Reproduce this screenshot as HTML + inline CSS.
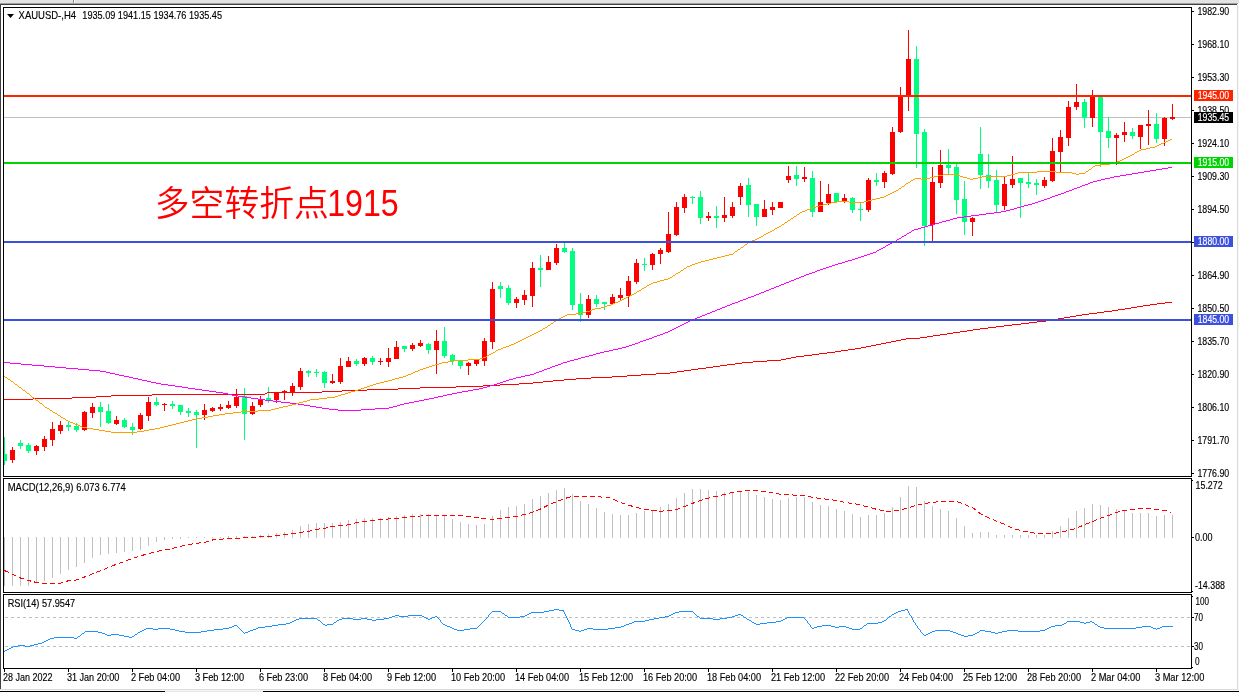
<!DOCTYPE html>
<html lang="zh"><head><meta charset="utf-8"><title>XAUUSD H4</title>
<style>
html,body{margin:0;padding:0;background:#fff;}
body{width:1239px;height:692px;overflow:hidden;position:relative;}
svg{display:block;position:absolute;left:0;top:0;will-change:transform;}
.t{font-family:"Liberation Sans","Noto Sans CJK SC",sans-serif;font-size:10.2px;fill:#000;stroke:#000;stroke-width:0.15px;}
.w{fill:#fff;stroke:#fff;}
.cn{font-family:"Liberation Sans","Noto Sans CJK SC",sans-serif;fill:#ff0000;}
</style></head><body>
<svg width="1239" height="692" viewBox="0 0 1239 692">
<rect x="0" y="0" width="1239" height="692" fill="#fff"/>
<g shape-rendering="crispEdges">
<rect x="0" y="0" width="1239" height="3" fill="#e3e3e3"/>
<rect x="0" y="3" width="1238" height="1" fill="#a0a0a0"/>
<rect x="0" y="4" width="1237" height="1" fill="#404040"/>
<rect x="0" y="4" width="1" height="685" fill="#404040"/>
<rect x="73" y="0" width="1" height="3" fill="#8a8a8a"/><rect x="74" y="0" width="1" height="3" fill="#fff"/>
<rect x="1237" y="5" width="1" height="685" fill="#dcdcdc"/>
<rect x="1238" y="3" width="1" height="689" fill="#f6f6f6"/>
<rect x="0" y="689" width="1238" height="1" fill="#dcdcdc"/>
<rect x="0" y="690" width="1239" height="1" fill="#f6f6f6"/>
<rect x="0" y="691" width="1239" height="1" fill="#000"/>
<rect x="165" y="691" width="98" height="1" fill="#e8e8e8"/>
</g>
<g shape-rendering="crispEdges">
<rect x="4" y="117" width="1187" height="1" fill="#c0c0c0"/>
<rect x="4" y="437" width="1" height="28" fill="#00ff7f"/><rect x="4" y="454" width="3" height="7" fill="#00ff7f"/>
<rect x="12" y="447" width="1" height="16" fill="#ff0000"/><rect x="10" y="450" width="5" height="10" fill="#ff0000"/>
<rect x="20" y="440" width="1" height="9" fill="#00ff7f"/><rect x="18" y="443" width="5" height="3" fill="#00ff7f"/>
<rect x="28" y="443" width="1" height="10" fill="#00ff7f"/><rect x="26" y="445" width="5" height="6" fill="#00ff7f"/>
<rect x="36" y="445" width="1" height="10" fill="#ff0000"/><rect x="34" y="446" width="5" height="5" fill="#ff0000"/>
<rect x="44" y="436" width="1" height="15" fill="#ff0000"/><rect x="42" y="439" width="5" height="8" fill="#ff0000"/>
<rect x="52" y="422" width="1" height="24" fill="#ff0000"/><rect x="50" y="429" width="5" height="11" fill="#ff0000"/>
<rect x="60" y="421" width="1" height="13" fill="#ff0000"/><rect x="58" y="425" width="5" height="6" fill="#ff0000"/>
<rect x="68" y="422" width="1" height="9" fill="#00ff7f"/><rect x="66" y="425" width="5" height="2" fill="#00ff7f"/>
<rect x="76" y="423" width="1" height="9" fill="#00ff7f"/><rect x="74" y="426" width="5" height="4" fill="#00ff7f"/>
<rect x="84" y="411" width="1" height="20" fill="#ff0000"/><rect x="82" y="412" width="5" height="18" fill="#ff0000"/>
<rect x="92" y="403" width="1" height="15" fill="#ff0000"/><rect x="90" y="407" width="5" height="6" fill="#ff0000"/>
<rect x="100" y="402" width="1" height="25" fill="#00ff7f"/><rect x="98" y="407" width="5" height="5" fill="#00ff7f"/>
<rect x="108" y="404" width="1" height="20" fill="#00ff7f"/><rect x="106" y="411" width="5" height="12" fill="#00ff7f"/>
<rect x="116" y="416" width="1" height="9" fill="#ff0000"/><rect x="114" y="420" width="5" height="4" fill="#ff0000"/>
<rect x="124" y="418" width="1" height="10" fill="#00ff7f"/><rect x="122" y="420" width="5" height="7" fill="#00ff7f"/>
<rect x="132" y="423" width="1" height="12" fill="#00ff7f"/><rect x="130" y="427" width="5" height="3" fill="#00ff7f"/>
<rect x="140" y="413" width="1" height="17" fill="#ff0000"/><rect x="138" y="415" width="5" height="14" fill="#ff0000"/>
<rect x="148" y="397" width="1" height="24" fill="#ff0000"/><rect x="146" y="402" width="5" height="14" fill="#ff0000"/>
<rect x="156" y="397" width="1" height="9" fill="#00ff7f"/><rect x="154" y="402" width="5" height="3" fill="#00ff7f"/>
<rect x="164" y="403" width="1" height="8" fill="#ff0000"/><rect x="162" y="404" width="5" height="1" fill="#ff0000"/>
<rect x="172" y="401" width="1" height="8" fill="#00ff7f"/><rect x="170" y="404" width="5" height="2" fill="#00ff7f"/>
<rect x="180" y="405" width="1" height="10" fill="#00ff7f"/><rect x="178" y="405" width="5" height="7" fill="#00ff7f"/>
<rect x="188" y="408" width="1" height="9" fill="#00ff7f"/><rect x="186" y="411" width="5" height="2" fill="#00ff7f"/>
<rect x="196" y="410" width="1" height="38" fill="#00ff7f"/><rect x="194" y="412" width="5" height="3" fill="#00ff7f"/>
<rect x="204" y="404" width="1" height="16" fill="#ff0000"/><rect x="202" y="410" width="5" height="5" fill="#ff0000"/>
<rect x="212" y="407" width="1" height="5" fill="#ff0000"/><rect x="210" y="408" width="5" height="3" fill="#ff0000"/>
<rect x="220" y="404" width="1" height="7" fill="#ff0000"/><rect x="218" y="407" width="5" height="2" fill="#ff0000"/>
<rect x="228" y="401" width="1" height="8" fill="#ff0000"/><rect x="226" y="405" width="5" height="3" fill="#ff0000"/>
<rect x="236" y="389" width="1" height="19" fill="#ff0000"/><rect x="234" y="397" width="5" height="9" fill="#ff0000"/>
<rect x="244" y="388" width="1" height="52" fill="#00ff7f"/><rect x="242" y="396" width="5" height="18" fill="#00ff7f"/>
<rect x="252" y="402" width="1" height="13" fill="#ff0000"/><rect x="250" y="406" width="5" height="8" fill="#ff0000"/>
<rect x="260" y="396" width="1" height="11" fill="#ff0000"/><rect x="258" y="399" width="5" height="6" fill="#ff0000"/>
<rect x="268" y="387" width="1" height="16" fill="#00ff7f"/><rect x="266" y="398" width="5" height="2" fill="#00ff7f"/>
<rect x="276" y="392" width="1" height="11" fill="#ff0000"/><rect x="274" y="392" width="5" height="8" fill="#ff0000"/>
<rect x="284" y="390" width="1" height="10" fill="#ff0000"/><rect x="282" y="391" width="5" height="2" fill="#ff0000"/>
<rect x="292" y="383" width="1" height="13" fill="#ff0000"/><rect x="290" y="386" width="5" height="6" fill="#ff0000"/>
<rect x="300" y="368" width="1" height="22" fill="#ff0000"/><rect x="298" y="371" width="5" height="16" fill="#ff0000"/>
<rect x="308" y="370" width="1" height="7" fill="#00ff7f"/><rect x="306" y="371" width="5" height="2" fill="#00ff7f"/>
<rect x="316" y="369" width="1" height="8" fill="#00ff7f"/><rect x="314" y="372" width="5" height="1" fill="#00ff7f"/>
<rect x="324" y="371" width="1" height="17" fill="#00ff7f"/><rect x="322" y="372" width="5" height="11" fill="#00ff7f"/>
<rect x="332" y="374" width="1" height="10" fill="#ff0000"/><rect x="330" y="381" width="5" height="2" fill="#ff0000"/>
<rect x="340" y="358" width="1" height="26" fill="#ff0000"/><rect x="338" y="366" width="5" height="16" fill="#ff0000"/>
<rect x="348" y="357" width="1" height="10" fill="#ff0000"/><rect x="346" y="361" width="5" height="6" fill="#ff0000"/>
<rect x="356" y="359" width="1" height="7" fill="#00ff7f"/><rect x="354" y="361" width="5" height="3" fill="#00ff7f"/>
<rect x="364" y="357" width="1" height="9" fill="#ff0000"/><rect x="362" y="358" width="5" height="6" fill="#ff0000"/>
<rect x="372" y="356" width="1" height="9" fill="#00ff7f"/><rect x="370" y="358" width="5" height="4" fill="#00ff7f"/>
<rect x="380" y="358" width="1" height="7" fill="#ff0000"/><rect x="378" y="361" width="5" height="1" fill="#ff0000"/>
<rect x="388" y="348" width="1" height="19" fill="#ff0000"/><rect x="386" y="358" width="5" height="4" fill="#ff0000"/>
<rect x="396" y="341" width="1" height="18" fill="#ff0000"/><rect x="394" y="347" width="5" height="12" fill="#ff0000"/>
<rect x="404" y="346" width="1" height="6" fill="#00ff7f"/><rect x="402" y="346" width="5" height="3" fill="#00ff7f"/>
<rect x="412" y="343" width="1" height="8" fill="#ff0000"/><rect x="410" y="345" width="5" height="4" fill="#ff0000"/>
<rect x="420" y="340" width="1" height="7" fill="#ff0000"/><rect x="418" y="343" width="5" height="3" fill="#ff0000"/>
<rect x="428" y="343" width="1" height="11" fill="#00ff7f"/><rect x="426" y="344" width="5" height="6" fill="#00ff7f"/>
<rect x="436" y="330" width="1" height="44" fill="#ff0000"/><rect x="434" y="341" width="5" height="9" fill="#ff0000"/>
<rect x="444" y="327" width="1" height="31" fill="#00ff7f"/><rect x="442" y="341" width="5" height="15" fill="#00ff7f"/>
<rect x="452" y="354" width="1" height="11" fill="#00ff7f"/><rect x="450" y="355" width="5" height="6" fill="#00ff7f"/>
<rect x="460" y="361" width="1" height="8" fill="#00ff7f"/><rect x="458" y="361" width="5" height="5" fill="#00ff7f"/>
<rect x="468" y="362" width="1" height="13" fill="#ff0000"/><rect x="466" y="363" width="5" height="3" fill="#ff0000"/>
<rect x="476" y="360" width="1" height="6" fill="#ff0000"/><rect x="474" y="360" width="5" height="4" fill="#ff0000"/>
<rect x="484" y="338" width="1" height="28" fill="#ff0000"/><rect x="482" y="341" width="5" height="20" fill="#ff0000"/>
<rect x="492" y="282" width="1" height="67" fill="#ff0000"/><rect x="490" y="289" width="5" height="53" fill="#ff0000"/>
<rect x="500" y="282" width="1" height="16" fill="#00ff7f"/><rect x="498" y="286" width="5" height="3" fill="#00ff7f"/>
<rect x="508" y="285" width="1" height="20" fill="#00ff7f"/><rect x="506" y="288" width="5" height="15" fill="#00ff7f"/>
<rect x="516" y="297" width="1" height="11" fill="#ff0000"/><rect x="514" y="299" width="5" height="4" fill="#ff0000"/>
<rect x="524" y="290" width="1" height="15" fill="#ff0000"/><rect x="522" y="295" width="5" height="5" fill="#ff0000"/>
<rect x="532" y="262" width="1" height="45" fill="#ff0000"/><rect x="530" y="268" width="5" height="28" fill="#ff0000"/>
<rect x="540" y="255" width="1" height="32" fill="#00ff7f"/><rect x="538" y="268" width="5" height="2" fill="#00ff7f"/>
<rect x="548" y="256" width="1" height="14" fill="#ff0000"/><rect x="546" y="262" width="5" height="8" fill="#ff0000"/>
<rect x="556" y="244" width="1" height="21" fill="#ff0000"/><rect x="554" y="248" width="5" height="15" fill="#ff0000"/>
<rect x="564" y="243" width="1" height="10" fill="#00ff7f"/><rect x="562" y="248" width="5" height="4" fill="#00ff7f"/>
<rect x="572" y="248" width="1" height="62" fill="#00ff7f"/><rect x="570" y="251" width="5" height="54" fill="#00ff7f"/>
<rect x="580" y="293" width="1" height="29" fill="#00ff7f"/><rect x="578" y="304" width="5" height="11" fill="#00ff7f"/>
<rect x="588" y="295" width="1" height="23" fill="#ff0000"/><rect x="586" y="299" width="5" height="16" fill="#ff0000"/>
<rect x="596" y="295" width="1" height="12" fill="#00ff7f"/><rect x="594" y="299" width="5" height="5" fill="#00ff7f"/>
<rect x="604" y="302" width="1" height="8" fill="#00ff7f"/><rect x="602" y="302" width="5" height="2" fill="#00ff7f"/>
<rect x="612" y="294" width="1" height="11" fill="#ff0000"/><rect x="610" y="297" width="5" height="7" fill="#ff0000"/>
<rect x="620" y="288" width="1" height="13" fill="#ff0000"/><rect x="618" y="295" width="5" height="3" fill="#ff0000"/>
<rect x="628" y="276" width="1" height="31" fill="#ff0000"/><rect x="626" y="281" width="5" height="15" fill="#ff0000"/>
<rect x="636" y="259" width="1" height="25" fill="#ff0000"/><rect x="634" y="263" width="5" height="19" fill="#ff0000"/>
<rect x="644" y="258" width="1" height="13" fill="#00ff7f"/><rect x="642" y="264" width="5" height="1" fill="#00ff7f"/>
<rect x="652" y="253" width="1" height="17" fill="#ff0000"/><rect x="650" y="254" width="5" height="11" fill="#ff0000"/>
<rect x="660" y="248" width="1" height="16" fill="#ff0000"/><rect x="658" y="250" width="5" height="4" fill="#ff0000"/>
<rect x="668" y="212" width="1" height="41" fill="#ff0000"/><rect x="666" y="234" width="5" height="18" fill="#ff0000"/>
<rect x="676" y="202" width="1" height="34" fill="#ff0000"/><rect x="674" y="207" width="5" height="28" fill="#ff0000"/>
<rect x="684" y="194" width="1" height="19" fill="#ff0000"/><rect x="682" y="197" width="5" height="11" fill="#ff0000"/>
<rect x="692" y="196" width="1" height="8" fill="#00ff7f"/><rect x="690" y="197" width="5" height="1" fill="#00ff7f"/>
<rect x="700" y="191" width="1" height="33" fill="#00ff7f"/><rect x="698" y="197" width="5" height="21" fill="#00ff7f"/>
<rect x="708" y="212" width="1" height="9" fill="#ff0000"/><rect x="706" y="216" width="5" height="2" fill="#ff0000"/>
<rect x="716" y="206" width="1" height="22" fill="#00ff7f"/><rect x="714" y="216" width="5" height="2" fill="#00ff7f"/>
<rect x="724" y="197" width="1" height="25" fill="#ff0000"/><rect x="722" y="215" width="5" height="3" fill="#ff0000"/>
<rect x="732" y="202" width="1" height="16" fill="#ff0000"/><rect x="730" y="207" width="5" height="9" fill="#ff0000"/>
<rect x="740" y="183" width="1" height="22" fill="#ff0000"/><rect x="738" y="186" width="5" height="11" fill="#ff0000"/>
<rect x="748" y="178" width="1" height="39" fill="#00ff7f"/><rect x="746" y="185" width="5" height="20" fill="#00ff7f"/>
<rect x="756" y="204" width="1" height="22" fill="#00ff7f"/><rect x="754" y="204" width="5" height="13" fill="#00ff7f"/>
<rect x="764" y="200" width="1" height="17" fill="#ff0000"/><rect x="762" y="209" width="5" height="8" fill="#ff0000"/>
<rect x="772" y="202" width="1" height="13" fill="#ff0000"/><rect x="770" y="207" width="5" height="3" fill="#ff0000"/>
<rect x="780" y="202" width="1" height="6" fill="#ff0000"/><rect x="778" y="202" width="5" height="6" fill="#ff0000"/>
<rect x="788" y="166" width="1" height="17" fill="#ff0000"/><rect x="786" y="176" width="5" height="4" fill="#ff0000"/>
<rect x="796" y="166" width="1" height="20" fill="#00ff7f"/><rect x="794" y="175" width="5" height="4" fill="#00ff7f"/>
<rect x="804" y="167" width="1" height="15" fill="#ff0000"/><rect x="802" y="177" width="5" height="2" fill="#ff0000"/>
<rect x="812" y="171" width="1" height="46" fill="#00ff7f"/><rect x="810" y="178" width="5" height="34" fill="#00ff7f"/>
<rect x="820" y="181" width="1" height="31" fill="#ff0000"/><rect x="818" y="202" width="5" height="10" fill="#ff0000"/>
<rect x="828" y="184" width="1" height="21" fill="#ff0000"/><rect x="826" y="194" width="5" height="9" fill="#ff0000"/>
<rect x="836" y="193" width="1" height="9" fill="#00ff7f"/><rect x="834" y="193" width="5" height="9" fill="#00ff7f"/>
<rect x="844" y="194" width="1" height="9" fill="#ff0000"/><rect x="842" y="198" width="5" height="3" fill="#ff0000"/>
<rect x="852" y="197" width="1" height="16" fill="#00ff7f"/><rect x="850" y="198" width="5" height="12" fill="#00ff7f"/>
<rect x="860" y="203" width="1" height="18" fill="#00ff7f"/><rect x="858" y="209" width="5" height="1" fill="#00ff7f"/>
<rect x="868" y="178" width="1" height="34" fill="#ff0000"/><rect x="866" y="180" width="5" height="30" fill="#ff0000"/>
<rect x="876" y="173" width="1" height="13" fill="#00ff7f"/><rect x="874" y="180" width="5" height="2" fill="#00ff7f"/>
<rect x="884" y="171" width="1" height="17" fill="#ff0000"/><rect x="882" y="173" width="5" height="9" fill="#ff0000"/>
<rect x="892" y="127" width="1" height="48" fill="#ff0000"/><rect x="890" y="132" width="5" height="42" fill="#ff0000"/>
<rect x="900" y="87" width="1" height="46" fill="#ff0000"/><rect x="898" y="96" width="5" height="36" fill="#ff0000"/>
<rect x="908" y="30" width="1" height="81" fill="#ff0000"/><rect x="906" y="59" width="5" height="37" fill="#ff0000"/>
<rect x="916" y="46" width="1" height="122" fill="#00ff7f"/><rect x="914" y="59" width="5" height="75" fill="#00ff7f"/>
<rect x="924" y="129" width="1" height="117" fill="#00ff7f"/><rect x="922" y="132" width="5" height="94" fill="#00ff7f"/>
<rect x="932" y="167" width="1" height="74" fill="#ff0000"/><rect x="930" y="182" width="5" height="43" fill="#ff0000"/>
<rect x="940" y="150" width="1" height="38" fill="#ff0000"/><rect x="938" y="165" width="5" height="18" fill="#ff0000"/>
<rect x="948" y="149" width="1" height="25" fill="#00ff7f"/><rect x="946" y="165" width="5" height="3" fill="#00ff7f"/>
<rect x="956" y="164" width="1" height="50" fill="#00ff7f"/><rect x="954" y="167" width="5" height="33" fill="#00ff7f"/>
<rect x="964" y="181" width="1" height="54" fill="#00ff7f"/><rect x="962" y="199" width="5" height="23" fill="#00ff7f"/>
<rect x="972" y="217" width="1" height="19" fill="#ff0000"/><rect x="970" y="218" width="5" height="4" fill="#ff0000"/>
<rect x="980" y="127" width="1" height="62" fill="#00ff7f"/><rect x="978" y="154" width="5" height="21" fill="#00ff7f"/>
<rect x="988" y="154" width="1" height="34" fill="#00ff7f"/><rect x="986" y="175" width="5" height="6" fill="#00ff7f"/>
<rect x="996" y="170" width="1" height="42" fill="#00ff7f"/><rect x="994" y="180" width="5" height="25" fill="#00ff7f"/>
<rect x="1004" y="177" width="1" height="33" fill="#ff0000"/><rect x="1002" y="184" width="5" height="22" fill="#ff0000"/>
<rect x="1012" y="156" width="1" height="32" fill="#ff0000"/><rect x="1010" y="179" width="5" height="6" fill="#ff0000"/>
<rect x="1020" y="178" width="1" height="40" fill="#00ff7f"/><rect x="1018" y="178" width="5" height="5" fill="#00ff7f"/>
<rect x="1028" y="173" width="1" height="15" fill="#00ff7f"/><rect x="1026" y="182" width="5" height="2" fill="#00ff7f"/>
<rect x="1036" y="179" width="1" height="16" fill="#00ff7f"/><rect x="1034" y="183" width="5" height="2" fill="#00ff7f"/>
<rect x="1044" y="177" width="1" height="11" fill="#ff0000"/><rect x="1042" y="180" width="5" height="6" fill="#ff0000"/>
<rect x="1052" y="138" width="1" height="44" fill="#ff0000"/><rect x="1050" y="151" width="5" height="30" fill="#ff0000"/>
<rect x="1060" y="130" width="1" height="42" fill="#ff0000"/><rect x="1058" y="137" width="5" height="15" fill="#ff0000"/>
<rect x="1068" y="101" width="1" height="45" fill="#ff0000"/><rect x="1066" y="107" width="5" height="31" fill="#ff0000"/>
<rect x="1076" y="84" width="1" height="26" fill="#ff0000"/><rect x="1074" y="102" width="5" height="5" fill="#ff0000"/>
<rect x="1084" y="99" width="1" height="29" fill="#00ff7f"/><rect x="1082" y="102" width="5" height="16" fill="#00ff7f"/>
<rect x="1092" y="90" width="1" height="37" fill="#ff0000"/><rect x="1090" y="96" width="5" height="22" fill="#ff0000"/>
<rect x="1100" y="97" width="1" height="70" fill="#00ff7f"/><rect x="1098" y="97" width="5" height="35" fill="#00ff7f"/>
<rect x="1108" y="117" width="1" height="31" fill="#00ff7f"/><rect x="1106" y="131" width="5" height="7" fill="#00ff7f"/>
<rect x="1116" y="133" width="1" height="32" fill="#ff0000"/><rect x="1114" y="135" width="5" height="3" fill="#ff0000"/>
<rect x="1124" y="122" width="1" height="20" fill="#ff0000"/><rect x="1122" y="132" width="5" height="3" fill="#ff0000"/>
<rect x="1132" y="128" width="1" height="11" fill="#00ff7f"/><rect x="1130" y="132" width="5" height="4" fill="#00ff7f"/>
<rect x="1140" y="125" width="1" height="24" fill="#ff0000"/><rect x="1138" y="125" width="5" height="12" fill="#ff0000"/>
<rect x="1148" y="110" width="1" height="35" fill="#ff0000"/><rect x="1146" y="124" width="5" height="2" fill="#ff0000"/>
<rect x="1156" y="113" width="1" height="30" fill="#00ff7f"/><rect x="1154" y="124" width="5" height="15" fill="#00ff7f"/>
<rect x="1164" y="117" width="1" height="29" fill="#ff0000"/><rect x="1162" y="118" width="5" height="21" fill="#ff0000"/>
<rect x="1172" y="104" width="1" height="16" fill="#ff0000"/><rect x="1170" y="117" width="5" height="2" fill="#ff0000"/>
</g>
<g shape-rendering="crispEdges">
<path fill="#ff0000" d="M3 399h30v1h-30zM33 398h39v1h-39zM72 397h24v1h-24zM96 396h15v1h-15zM111 395h41v1h-41zM152 394h113v1h-113zM265 393h2v1h-2zM267 392h55v1h-55zM322 391h20v1h-20zM342 390h25v1h-25zM367 389h31v1h-31zM398 388h22v1h-22zM420 387h36v1h-36zM456 386h27v1h-27zM483 385h17v1h-17zM500 384h19v1h-19zM519 383h14v1h-14zM533 382h10v1h-10zM543 381h10v1h-10zM553 380h11v1h-11zM564 379h12v1h-12zM576 378h15v1h-15zM591 377h21v1h-21zM612 376h15v1h-15zM627 375h14v1h-14zM641 374h15v1h-15zM656 373h14v1h-14zM670 372h7v1h-7zM677 371h7v1h-7zM684 370h7v1h-7zM691 369h7v1h-7zM698 368h8v1h-8zM706 367h7v1h-7zM713 366h7v1h-7zM720 365h7v1h-7zM727 364h8v1h-8zM735 363h7v1h-7zM742 362h11v1h-11zM753 361h14v1h-14zM767 360h14v1h-14zM781 359h5v1h-5zM786 358h5v1h-5zM791 357h5v1h-5zM796 356h8v1h-8zM804 355h8v1h-8zM812 354h7v1h-7zM819 353h8v1h-8zM827 352h8v1h-8zM835 351h6v1h-6zM841 350h7v1h-7zM848 349h7v1h-7zM855 348h6v1h-6zM861 347h5v1h-5zM866 346h5v1h-5zM871 345h5v1h-5zM876 344h5v1h-5zM881 343h5v1h-5zM886 342h5v1h-5zM891 341h5v1h-5zM896 340h5v1h-5zM901 339h5v1h-5zM906 338h14v1h-14zM920 337h7v1h-7zM927 336h6v1h-6zM933 335h7v1h-7zM940 334h7v1h-7zM947 333h6v1h-6zM953 332h7v1h-7zM960 331h7v1h-7zM967 330h6v1h-6zM973 329h7v1h-7zM980 328h8v1h-8zM988 327h8v1h-8zM996 326h8v1h-8zM1004 325h8v1h-8zM1012 324h9v1h-9zM1021 323h8v1h-8zM1029 322h8v1h-8zM1037 321h9v1h-9zM1046 320h6v1h-6zM1052 319h6v1h-6zM1058 318h6v1h-6zM1064 317h6v1h-6zM1070 316h6v1h-6zM1076 315h6v1h-6zM1082 314h7v1h-7zM1089 313h8v1h-8zM1097 312h7v1h-7zM1104 311h8v1h-8zM1112 310h6v1h-6zM1118 309h7v1h-7zM1125 308h6v1h-6zM1131 307h6v1h-6zM1137 306h6v1h-6zM1143 305h7v1h-7zM1150 304h7v1h-7zM1157 303h8v1h-8zM1165 302h7v1h-7z"/>
<path fill="#ff00ff" d="M3 362h7v1h-7zM10 363h11v1h-11zM21 364h11v1h-11zM32 365h12v1h-12zM44 366h11v1h-11zM55 367h11v1h-11zM66 368h12v1h-12zM78 369h11v1h-11zM89 370h11v1h-11zM100 371h6v1h-6zM106 372h4v1h-4zM110 373h5v1h-5zM115 374h4v1h-4zM119 375h5v1h-5zM124 376h5v1h-5zM129 377h4v1h-4zM133 378h5v1h-5zM138 379h4v1h-4zM142 380h5v1h-5zM147 381h4v1h-4zM151 382h5v1h-5zM156 383h5v1h-5zM161 384h7v1h-7zM168 385h7v1h-7zM175 386h7v1h-7zM182 387h6v1h-6zM188 388h7v1h-7zM195 389h7v1h-7zM202 390h7v1h-7zM209 391h7v1h-7zM216 392h7v1h-7zM223 393h5v1h-5zM228 394h4v1h-4zM232 395h6v1h-6zM238 396h7v1h-7zM245 397h6v1h-6zM251 398h7v1h-7zM258 399h7v1h-7zM265 400h8v1h-8zM273 401h8v1h-8zM281 402h9v1h-9zM290 403h8v1h-8zM298 404h6v1h-6zM304 405h6v1h-6zM310 406h6v1h-6zM316 407h6v1h-6zM322 408h7v1h-7zM329 409h9v1h-9zM338 410h23v1h-23zM361 409h14v1h-14zM375 408h14v1h-14zM389 407h4v1h-4zM393 406h4v1h-4zM397 405h3v1h-3zM400 404h4v1h-4zM404 403h5v1h-5zM409 402h5v1h-5zM414 401h5v1h-5zM419 400h5v1h-5zM424 399h5v1h-5zM429 398h5v1h-5zM434 397h4v1h-4zM438 396h5v1h-5zM443 395h4v1h-4zM447 394h5v1h-5zM452 393h5v1h-5zM457 392h5v1h-5zM462 391h6v1h-6zM468 390h5v1h-5zM473 389h6v1h-6zM479 388h4v1h-4zM483 387h4v1h-4zM487 386h3v1h-3zM490 385h4v1h-4zM494 384h3v1h-3zM497 383h3v1h-3zM500 382h3v1h-3zM503 381h3v1h-3zM506 380h3v1h-3zM509 379h4v1h-4zM513 378h3v1h-3zM516 377h5v1h-5zM521 376h4v1h-4zM525 375h5v1h-5zM530 374h4v1h-4zM534 373h2v1h-2zM536 372h3v1h-3zM539 371h3v1h-3zM542 370h2v1h-2zM544 369h3v1h-3zM547 368h3v1h-3zM550 367h2v1h-2zM552 366h3v1h-3zM555 365h3v1h-3zM558 364h3v1h-3zM561 363h2v1h-2zM563 362h4v1h-4zM567 361h3v1h-3zM570 360h4v1h-4zM574 359h4v1h-4zM578 358h3v1h-3zM581 357h4v1h-4zM585 356h4v1h-4zM589 355h4v1h-4zM593 354h3v1h-3zM596 353h4v1h-4zM600 352h4v1h-4zM604 351h5v1h-5zM609 350h4v1h-4zM613 349h5v1h-5zM618 348h4v1h-4zM622 347h4v1h-4zM626 346h3v1h-3zM629 345h3v1h-3zM632 344h3v1h-3zM635 343h3v1h-3zM638 342h2v1h-2zM640 341h3v1h-3zM643 340h3v1h-3zM646 339h3v1h-3zM649 338h3v1h-3zM652 337h2v1h-2zM654 336h3v1h-3zM657 335h3v1h-3zM660 334h3v1h-3zM663 333h2v1h-2zM665 332h3v1h-3zM668 331h2v1h-2zM670 330h2v1h-2zM672 329h2v1h-2zM674 328h2v1h-2zM676 327h2v1h-2zM678 326h2v1h-2zM680 325h2v1h-2zM682 324h2v1h-2zM684 323h2v1h-2zM686 322h2v1h-2zM688 321h2v1h-2zM690 320h2v1h-2zM692 319h3v1h-3zM695 318h2v1h-2zM697 317h3v1h-3zM700 316h2v1h-2zM702 315h3v1h-3zM705 314h2v1h-2zM707 313h3v1h-3zM710 312h2v1h-2zM712 311h3v1h-3zM715 310h2v1h-2zM717 309h3v1h-3zM720 308h2v1h-2zM722 307h3v1h-3zM725 306h2v1h-2zM727 305h3v1h-3zM730 304h2v1h-2zM732 303h3v1h-3zM735 302h3v1h-3zM738 301h2v1h-2zM740 300h3v1h-3zM743 299h3v1h-3zM746 298h2v1h-2zM748 297h3v1h-3zM751 296h3v1h-3zM754 295h2v1h-2zM756 294h3v1h-3zM759 293h2v1h-2zM761 292h3v1h-3zM764 291h2v1h-2zM766 290h3v1h-3zM769 289h2v1h-2zM771 288h3v1h-3zM774 287h2v1h-2zM776 286h3v1h-3zM779 285h2v1h-2zM781 284h3v1h-3zM784 283h2v1h-2zM786 282h3v1h-3zM789 281h2v1h-2zM791 280h3v1h-3zM794 279h2v1h-2zM796 278h3v1h-3zM799 277h2v1h-2zM801 276h3v1h-3zM804 275h2v1h-2zM806 274h3v1h-3zM809 273h3v1h-3zM812 272h3v1h-3zM815 271h2v1h-2zM817 270h3v1h-3zM820 269h3v1h-3zM823 268h3v1h-3zM826 267h3v1h-3zM829 266h3v1h-3zM832 265h3v1h-3zM835 264h3v1h-3zM838 263h4v1h-4zM842 262h3v1h-3zM845 261h3v1h-3zM848 260h4v1h-4zM852 259h3v1h-3zM855 258h3v1h-3zM858 257h3v1h-3zM861 256h3v1h-3zM864 255h3v1h-3zM867 254h3v1h-3zM870 253h3v1h-3zM873 252h3v1h-3zM876 251h1v1h-1zM877 250h2v1h-2zM879 249h2v1h-2zM881 248h2v1h-2zM883 247h2v1h-2zM885 246h1v1h-1zM886 245h2v1h-2zM888 244h2v1h-2zM890 243h2v1h-2zM892 242h2v1h-2zM894 241h2v1h-2zM896 240h1v1h-1zM897 239h2v1h-2zM899 238h2v1h-2zM901 237h1v1h-1zM902 236h2v1h-2zM904 235h2v1h-2zM906 234h1v1h-1zM907 233h2v1h-2zM909 232h2v1h-2zM911 231h1v1h-1zM912 230h2v1h-2zM914 229h4v1h-4zM918 228h3v1h-3zM921 227h4v1h-4zM925 226h3v1h-3zM928 225h4v1h-4zM932 224h3v1h-3zM935 223h4v1h-4zM939 222h3v1h-3zM942 221h4v1h-4zM946 220h4v1h-4zM950 219h3v1h-3zM953 218h4v1h-4zM957 217h7v1h-7zM964 216h7v1h-7zM971 215h8v1h-8zM979 214h7v1h-7zM986 213h8v1h-8zM994 212h7v1h-7zM1001 211h5v1h-5zM1006 210h4v1h-4zM1010 209h4v1h-4zM1014 208h3v1h-3zM1017 207h4v1h-4zM1021 206h3v1h-3zM1024 205h4v1h-4zM1028 204h4v1h-4zM1032 203h3v1h-3zM1035 202h3v1h-3zM1038 201h3v1h-3zM1041 200h3v1h-3zM1044 199h3v1h-3zM1047 198h3v1h-3zM1050 197h2v1h-2zM1052 196h3v1h-3zM1055 195h3v1h-3zM1058 194h3v1h-3zM1061 193h3v1h-3zM1064 192h2v1h-2zM1066 191h3v1h-3zM1069 190h3v1h-3zM1072 189h2v1h-2zM1074 188h3v1h-3zM1077 187h3v1h-3zM1080 186h2v1h-2zM1082 185h3v1h-3zM1085 184h3v1h-3zM1088 183h2v1h-2zM1090 182h3v1h-3zM1093 181h4v1h-4zM1097 180h4v1h-4zM1101 179h4v1h-4zM1105 178h5v1h-5zM1110 177h4v1h-4zM1114 176h6v1h-6zM1120 175h6v1h-6zM1126 174h6v1h-6zM1132 173h6v1h-6zM1138 172h6v1h-6zM1144 171h6v1h-6zM1150 170h6v1h-6zM1156 169h6v1h-6zM1162 168h6v1h-6zM1168 167h4v1h-4z"/>
<path fill="#ffa000" d="M3 376h2v1h-2zM5 377h2v1h-2zM7 378h1v1h-1zM8 379h2v1h-2zM10 380h1v1h-1zM11 381h2v1h-2zM13 382h1v1h-1zM14 383h1v1h-1zM15 384h2v1h-2zM17 385h1v1h-1zM18 386h1v1h-1zM19 387h2v1h-2zM21 388h1v1h-1zM22 389h1v1h-1zM23 390h2v1h-2zM25 391h1v1h-1zM26 392h1v1h-1zM27 393h2v1h-2zM29 394h1v1h-1zM30 395h1v1h-1zM31 396h1v1h-1zM32 397h2v1h-2zM34 398h1v1h-1zM35 399h1v1h-1zM36 400h2v1h-2zM38 401h1v1h-1zM39 402h1v1h-1zM40 403h2v1h-2zM42 404h1v1h-1zM43 405h1v1h-1zM44 406h1v1h-1zM45 407h2v1h-2zM47 408h2v1h-2zM49 409h1v1h-1zM50 410h2v1h-2zM52 411h1v1h-1zM53 412h2v1h-2zM55 413h2v1h-2zM57 414h1v1h-1zM58 415h2v1h-2zM60 416h1v1h-1zM61 417h2v1h-2zM63 418h2v1h-2zM65 419h1v1h-1zM66 420h2v1h-2zM68 421h2v1h-2zM70 422h3v1h-3zM73 423h2v1h-2zM75 424h3v1h-3zM78 425h2v1h-2zM80 426h2v1h-2zM82 427h5v1h-5zM87 428h6v1h-6zM93 429h6v1h-6zM99 430h6v1h-6zM105 431h6v1h-6zM111 432h26v1h-26zM137 431h7v1h-7zM144 430h5v1h-5zM149 429h6v1h-6zM155 428h5v1h-5zM160 427h4v1h-4zM164 426h4v1h-4zM168 425h4v1h-4zM172 424h4v1h-4zM176 423h4v1h-4zM180 422h4v1h-4zM184 421h4v1h-4zM188 420h4v1h-4zM192 419h4v1h-4zM196 418h6v1h-6zM202 417h6v1h-6zM208 416h5v1h-5zM213 415h6v1h-6zM219 414h6v1h-6zM225 413h8v1h-8zM233 412h8v1h-8zM241 411h17v1h-17zM258 410h13v1h-13zM271 409h4v1h-4zM275 408h4v1h-4zM279 407h4v1h-4zM283 406h5v1h-5zM288 405h4v1h-4zM292 404h4v1h-4zM296 403h3v1h-3zM299 402h4v1h-4zM303 401h4v1h-4zM307 400h3v1h-3zM310 399h9v1h-9zM319 398h8v1h-8zM327 397h8v1h-8zM335 396h3v1h-3zM338 395h3v1h-3zM341 394h4v1h-4zM345 393h3v1h-3zM348 392h3v1h-3zM351 391h4v1h-4zM355 390h3v1h-3zM358 389h3v1h-3zM361 388h3v1h-3zM364 387h3v1h-3zM367 386h3v1h-3zM370 385h3v1h-3zM373 384h3v1h-3zM376 383h4v1h-4zM380 382h4v1h-4zM384 381h4v1h-4zM388 380h4v1h-4zM392 379h3v1h-3zM395 378h4v1h-4zM399 377h4v1h-4zM403 376h3v1h-3zM406 375h2v1h-2zM408 374h3v1h-3zM411 373h2v1h-2zM413 372h2v1h-2zM415 371h3v1h-3zM418 370h2v1h-2zM420 369h3v1h-3zM423 368h3v1h-3zM426 367h3v1h-3zM429 366h3v1h-3zM432 365h3v1h-3zM435 364h4v1h-4zM439 363h3v1h-3zM442 362h6v1h-6zM448 361h6v1h-6zM454 360h14v1h-14zM468 359h12v1h-12zM480 358h3v1h-3zM483 357h3v1h-3zM486 356h1v1h-1zM487 355h2v1h-2zM489 354h2v1h-2zM491 353h2v1h-2zM493 352h2v1h-2zM495 351h1v1h-1zM496 350h2v1h-2zM498 349h3v1h-3zM501 348h2v1h-2zM503 347h3v1h-3zM506 346h3v1h-3zM509 345h2v1h-2zM511 344h3v1h-3zM514 343h2v1h-2zM516 342h2v1h-2zM518 341h2v1h-2zM520 340h2v1h-2zM522 339h2v1h-2zM524 338h2v1h-2zM526 337h2v1h-2zM528 336h2v1h-2zM530 335h2v1h-2zM532 334h2v1h-2zM534 333h2v1h-2zM536 332h2v1h-2zM538 331h2v1h-2zM540 330h2v1h-2zM542 329h1v1h-1zM543 328h2v1h-2zM545 327h2v1h-2zM547 326h1v1h-1zM548 325h2v1h-2zM550 324h1v1h-1zM551 323h2v1h-2zM553 322h1v1h-1zM554 321h2v1h-2zM556 320h1v1h-1zM557 319h2v1h-2zM559 318h2v1h-2zM561 317h2v1h-2zM563 316h2v1h-2zM565 315h2v1h-2zM567 314h9v1h-9zM576 313h6v1h-6zM582 312h4v1h-4zM586 311h4v1h-4zM590 310h2v1h-2zM592 309h3v1h-3zM595 308h6v1h-6zM601 307h3v1h-3zM604 306h3v1h-3zM607 305h4v1h-4zM611 304h2v1h-2zM613 303h2v1h-2zM615 302h3v1h-3zM618 301h2v1h-2zM620 300h2v1h-2zM622 299h2v1h-2zM624 298h2v1h-2zM626 297h2v1h-2zM628 296h2v1h-2zM630 295h2v1h-2zM632 294h2v1h-2zM634 293h2v1h-2zM636 292h1v1h-1zM637 291h2v1h-2zM639 290h2v1h-2zM641 289h1v1h-1zM642 288h2v1h-2zM644 287h2v1h-2zM646 286h1v1h-1zM647 285h2v1h-2zM649 284h2v1h-2zM651 283h2v1h-2zM653 282h4v1h-4zM657 281h3v1h-3zM660 280h4v1h-4zM664 279h4v1h-4zM668 278h2v1h-2zM670 277h2v1h-2zM672 276h1v1h-1zM673 275h2v1h-2zM675 274h1v1h-1zM676 273h2v1h-2zM678 272h2v1h-2zM680 271h1v1h-1zM681 270h2v1h-2zM683 269h1v1h-1zM684 268h2v1h-2zM686 267h1v1h-1zM687 266h3v1h-3zM690 265h2v1h-2zM692 264h3v1h-3zM695 263h3v1h-3zM698 262h3v1h-3zM701 261h4v1h-4zM705 260h4v1h-4zM709 259h4v1h-4zM713 258h4v1h-4zM717 257h4v1h-4zM721 256h4v1h-4zM725 255h4v1h-4zM729 254h4v1h-4zM733 253h1v1h-1zM734 252h1v1h-1zM735 251h2v1h-2zM737 250h1v1h-1zM738 249h2v1h-2zM740 248h1v1h-1zM741 247h2v1h-2zM743 246h1v1h-1zM744 245h1v1h-1zM745 244h2v1h-2zM747 243h1v1h-1zM748 242h2v1h-2zM750 241h2v1h-2zM752 240h3v1h-3zM755 239h2v1h-2zM757 238h2v1h-2zM759 237h2v1h-2zM761 236h2v1h-2zM763 235h1v1h-1zM764 234h2v1h-2zM766 233h2v1h-2zM768 232h2v1h-2zM770 231h2v1h-2zM772 230h2v1h-2zM774 229h1v1h-1zM775 228h2v1h-2zM777 227h2v1h-2zM779 226h2v1h-2zM781 225h1v1h-1zM782 224h2v1h-2zM784 223h1v1h-1zM785 222h2v1h-2zM787 221h1v1h-1zM788 220h2v1h-2zM790 219h1v1h-1zM791 218h2v1h-2zM793 217h1v1h-1zM794 216h2v1h-2zM796 215h1v1h-1zM797 214h2v1h-2zM799 213h1v1h-1zM800 212h2v1h-2zM802 211h3v1h-3zM805 210h2v1h-2zM807 209h3v1h-3zM810 208h2v1h-2zM812 207h4v1h-4zM816 206h3v1h-3zM819 205h4v1h-4zM823 204h4v1h-4zM827 203h4v1h-4zM831 202h6v1h-6zM837 201h12v1h-12zM849 202h15v1h-15zM864 201h4v1h-4zM868 200h4v1h-4zM872 199h4v1h-4zM876 198h4v1h-4zM880 197h4v1h-4zM884 196h2v1h-2zM886 195h2v1h-2zM888 194h2v1h-2zM890 193h2v1h-2zM892 192h2v1h-2zM894 191h2v1h-2zM896 190h2v1h-2zM898 189h1v1h-1zM899 188h2v1h-2zM901 187h1v1h-1zM902 186h2v1h-2zM904 185h1v1h-1zM905 184h1v1h-1zM906 183h2v1h-2zM908 182h2v1h-2zM910 181h1v1h-1zM911 180h2v1h-2zM913 179h2v1h-2zM915 178h6v1h-6zM921 179h5v1h-5zM926 178h4v1h-4zM930 177h4v1h-4zM934 176h4v1h-4zM938 175h5v1h-5zM943 174h12v1h-12zM955 175h5v1h-5zM960 176h3v1h-3zM963 177h4v1h-4zM967 178h3v1h-3zM970 179h3v1h-3zM973 178h5v1h-5zM978 177h4v1h-4zM982 176h25v1h-25zM1007 175h4v1h-4zM1011 174h4v1h-4zM1015 173h3v1h-3zM1018 172h19v1h-19zM1037 171h19v1h-19zM1056 172h16v1h-16zM1072 173h4v1h-4zM1076 174h3v1h-3zM1079 173h6v1h-6zM1085 172h1v1h-1zM1086 171h2v1h-2zM1088 170h1v1h-1zM1089 169h2v1h-2zM1091 168h1v1h-1zM1092 167h1v1h-1zM1093 166h2v1h-2zM1095 165h5v1h-5zM1100 164h10v1h-10zM1110 163h3v1h-3zM1113 162h4v1h-4zM1117 161h3v1h-3zM1120 160h2v1h-2zM1122 159h2v1h-2zM1124 158h2v1h-2zM1126 157h2v1h-2zM1128 156h2v1h-2zM1130 155h2v1h-2zM1132 154h2v1h-2zM1134 153h1v1h-1zM1135 152h2v1h-2zM1137 151h2v1h-2zM1139 150h2v1h-2zM1141 149h5v1h-5zM1146 148h4v1h-4zM1150 147h5v1h-5zM1155 146h2v1h-2zM1157 145h2v1h-2zM1159 144h2v1h-2zM1161 143h3v1h-3zM1164 142h2v1h-2zM1166 141h2v1h-2zM1168 140h2v1h-2zM1170 139h2v1h-2z"/>
</g>
<g shape-rendering="crispEdges">
<rect x="4" y="95" width="1187" height="2" fill="#ff2400"/>
<rect x="4" y="162" width="1187" height="2" fill="#00d400"/>
<rect x="4" y="241" width="1187" height="2" fill="#3c50e0"/>
<rect x="4" y="319" width="1187" height="2" fill="#3c50e0"/>
</g>
<g shape-rendering="crispEdges">
<rect x="4" y="537" width="1" height="49" fill="#c0c0c0"/>
<rect x="12" y="537" width="1" height="49" fill="#c0c0c0"/>
<rect x="20" y="537" width="1" height="49" fill="#c0c0c0"/>
<rect x="28" y="537" width="1" height="49" fill="#c0c0c0"/>
<rect x="36" y="537" width="1" height="46" fill="#c0c0c0"/>
<rect x="44" y="537" width="1" height="44" fill="#c0c0c0"/>
<rect x="52" y="537" width="1" height="41" fill="#c0c0c0"/>
<rect x="60" y="537" width="1" height="37" fill="#c0c0c0"/>
<rect x="68" y="537" width="1" height="33" fill="#c0c0c0"/>
<rect x="76" y="537" width="1" height="30" fill="#c0c0c0"/>
<rect x="84" y="537" width="1" height="26" fill="#c0c0c0"/>
<rect x="92" y="537" width="1" height="21" fill="#c0c0c0"/>
<rect x="100" y="537" width="1" height="18" fill="#c0c0c0"/>
<rect x="108" y="537" width="1" height="17" fill="#c0c0c0"/>
<rect x="116" y="537" width="1" height="16" fill="#c0c0c0"/>
<rect x="124" y="537" width="1" height="15" fill="#c0c0c0"/>
<rect x="132" y="537" width="1" height="14" fill="#c0c0c0"/>
<rect x="140" y="537" width="1" height="13" fill="#c0c0c0"/>
<rect x="148" y="537" width="1" height="9" fill="#c0c0c0"/>
<rect x="156" y="537" width="1" height="5" fill="#c0c0c0"/>
<rect x="164" y="537" width="1" height="3" fill="#c0c0c0"/>
<rect x="172" y="537" width="1" height="2" fill="#c0c0c0"/>
<rect x="180" y="537" width="1" height="2" fill="#c0c0c0"/>
<rect x="188" y="537" width="1" height="1" fill="#c0c0c0"/>
<rect x="196" y="537" width="1" height="1" fill="#c0c0c0"/>
<rect x="204" y="537" width="1" height="1" fill="#c0c0c0"/>
<rect x="212" y="537" width="1" height="1" fill="#c0c0c0"/>
<rect x="220" y="537" width="1" height="1" fill="#c0c0c0"/>
<rect x="228" y="536" width="1" height="2" fill="#c0c0c0"/>
<rect x="236" y="536" width="1" height="2" fill="#c0c0c0"/>
<rect x="244" y="536" width="1" height="2" fill="#c0c0c0"/>
<rect x="252" y="536" width="1" height="2" fill="#c0c0c0"/>
<rect x="260" y="535" width="1" height="3" fill="#c0c0c0"/>
<rect x="268" y="534" width="1" height="4" fill="#c0c0c0"/>
<rect x="276" y="533" width="1" height="5" fill="#c0c0c0"/>
<rect x="284" y="532" width="1" height="6" fill="#c0c0c0"/>
<rect x="292" y="530" width="1" height="8" fill="#c0c0c0"/>
<rect x="300" y="526" width="1" height="12" fill="#c0c0c0"/>
<rect x="308" y="524" width="1" height="14" fill="#c0c0c0"/>
<rect x="316" y="523" width="1" height="15" fill="#c0c0c0"/>
<rect x="324" y="523" width="1" height="15" fill="#c0c0c0"/>
<rect x="332" y="523" width="1" height="15" fill="#c0c0c0"/>
<rect x="340" y="522" width="1" height="16" fill="#c0c0c0"/>
<rect x="348" y="520" width="1" height="18" fill="#c0c0c0"/>
<rect x="356" y="519" width="1" height="19" fill="#c0c0c0"/>
<rect x="364" y="518" width="1" height="20" fill="#c0c0c0"/>
<rect x="372" y="518" width="1" height="20" fill="#c0c0c0"/>
<rect x="380" y="518" width="1" height="20" fill="#c0c0c0"/>
<rect x="388" y="517" width="1" height="21" fill="#c0c0c0"/>
<rect x="396" y="516" width="1" height="22" fill="#c0c0c0"/>
<rect x="404" y="515" width="1" height="23" fill="#c0c0c0"/>
<rect x="412" y="514" width="1" height="24" fill="#c0c0c0"/>
<rect x="420" y="514" width="1" height="24" fill="#c0c0c0"/>
<rect x="428" y="514" width="1" height="24" fill="#c0c0c0"/>
<rect x="436" y="515" width="1" height="23" fill="#c0c0c0"/>
<rect x="444" y="516" width="1" height="22" fill="#c0c0c0"/>
<rect x="452" y="519" width="1" height="19" fill="#c0c0c0"/>
<rect x="460" y="522" width="1" height="16" fill="#c0c0c0"/>
<rect x="468" y="524" width="1" height="14" fill="#c0c0c0"/>
<rect x="476" y="525" width="1" height="13" fill="#c0c0c0"/>
<rect x="484" y="524" width="1" height="14" fill="#c0c0c0"/>
<rect x="492" y="516" width="1" height="22" fill="#c0c0c0"/>
<rect x="500" y="510" width="1" height="28" fill="#c0c0c0"/>
<rect x="508" y="507" width="1" height="31" fill="#c0c0c0"/>
<rect x="516" y="506" width="1" height="32" fill="#c0c0c0"/>
<rect x="524" y="504" width="1" height="34" fill="#c0c0c0"/>
<rect x="532" y="499" width="1" height="39" fill="#c0c0c0"/>
<rect x="540" y="496" width="1" height="42" fill="#c0c0c0"/>
<rect x="548" y="493" width="1" height="45" fill="#c0c0c0"/>
<rect x="556" y="490" width="1" height="48" fill="#c0c0c0"/>
<rect x="564" y="488" width="1" height="50" fill="#c0c0c0"/>
<rect x="572" y="494" width="1" height="44" fill="#c0c0c0"/>
<rect x="580" y="501" width="1" height="37" fill="#c0c0c0"/>
<rect x="588" y="504" width="1" height="34" fill="#c0c0c0"/>
<rect x="596" y="508" width="1" height="30" fill="#c0c0c0"/>
<rect x="604" y="512" width="1" height="26" fill="#c0c0c0"/>
<rect x="612" y="514" width="1" height="24" fill="#c0c0c0"/>
<rect x="620" y="515" width="1" height="23" fill="#c0c0c0"/>
<rect x="628" y="515" width="1" height="23" fill="#c0c0c0"/>
<rect x="636" y="513" width="1" height="25" fill="#c0c0c0"/>
<rect x="644" y="511" width="1" height="27" fill="#c0c0c0"/>
<rect x="652" y="510" width="1" height="28" fill="#c0c0c0"/>
<rect x="660" y="507" width="1" height="31" fill="#c0c0c0"/>
<rect x="668" y="504" width="1" height="34" fill="#c0c0c0"/>
<rect x="676" y="498" width="1" height="40" fill="#c0c0c0"/>
<rect x="684" y="493" width="1" height="45" fill="#c0c0c0"/>
<rect x="692" y="489" width="1" height="49" fill="#c0c0c0"/>
<rect x="700" y="489" width="1" height="49" fill="#c0c0c0"/>
<rect x="708" y="490" width="1" height="48" fill="#c0c0c0"/>
<rect x="716" y="491" width="1" height="47" fill="#c0c0c0"/>
<rect x="724" y="492" width="1" height="46" fill="#c0c0c0"/>
<rect x="732" y="492" width="1" height="46" fill="#c0c0c0"/>
<rect x="740" y="491" width="1" height="47" fill="#c0c0c0"/>
<rect x="748" y="492" width="1" height="46" fill="#c0c0c0"/>
<rect x="756" y="495" width="1" height="43" fill="#c0c0c0"/>
<rect x="764" y="497" width="1" height="41" fill="#c0c0c0"/>
<rect x="772" y="499" width="1" height="39" fill="#c0c0c0"/>
<rect x="780" y="500" width="1" height="38" fill="#c0c0c0"/>
<rect x="788" y="498" width="1" height="40" fill="#c0c0c0"/>
<rect x="796" y="497" width="1" height="41" fill="#c0c0c0"/>
<rect x="804" y="497" width="1" height="41" fill="#c0c0c0"/>
<rect x="812" y="502" width="1" height="36" fill="#c0c0c0"/>
<rect x="820" y="505" width="1" height="33" fill="#c0c0c0"/>
<rect x="828" y="506" width="1" height="32" fill="#c0c0c0"/>
<rect x="836" y="509" width="1" height="29" fill="#c0c0c0"/>
<rect x="844" y="511" width="1" height="27" fill="#c0c0c0"/>
<rect x="852" y="514" width="1" height="24" fill="#c0c0c0"/>
<rect x="860" y="517" width="1" height="21" fill="#c0c0c0"/>
<rect x="868" y="515" width="1" height="23" fill="#c0c0c0"/>
<rect x="876" y="515" width="1" height="23" fill="#c0c0c0"/>
<rect x="884" y="513" width="1" height="25" fill="#c0c0c0"/>
<rect x="892" y="507" width="1" height="31" fill="#c0c0c0"/>
<rect x="900" y="497" width="1" height="41" fill="#c0c0c0"/>
<rect x="908" y="486" width="1" height="52" fill="#c0c0c0"/>
<rect x="916" y="487" width="1" height="51" fill="#c0c0c0"/>
<rect x="924" y="501" width="1" height="37" fill="#c0c0c0"/>
<rect x="932" y="506" width="1" height="32" fill="#c0c0c0"/>
<rect x="940" y="509" width="1" height="29" fill="#c0c0c0"/>
<rect x="948" y="511" width="1" height="27" fill="#c0c0c0"/>
<rect x="956" y="518" width="1" height="20" fill="#c0c0c0"/>
<rect x="964" y="526" width="1" height="12" fill="#c0c0c0"/>
<rect x="972" y="533" width="1" height="5" fill="#c0c0c0"/>
<rect x="980" y="532" width="1" height="6" fill="#c0c0c0"/>
<rect x="988" y="532" width="1" height="6" fill="#c0c0c0"/>
<rect x="996" y="535" width="1" height="3" fill="#c0c0c0"/>
<rect x="1004" y="535" width="1" height="3" fill="#c0c0c0"/>
<rect x="1012" y="535" width="1" height="3" fill="#c0c0c0"/>
<rect x="1020" y="535" width="1" height="3" fill="#c0c0c0"/>
<rect x="1028" y="535" width="1" height="3" fill="#c0c0c0"/>
<rect x="1036" y="535" width="1" height="3" fill="#c0c0c0"/>
<rect x="1044" y="535" width="1" height="3" fill="#c0c0c0"/>
<rect x="1052" y="531" width="1" height="7" fill="#c0c0c0"/>
<rect x="1060" y="526" width="1" height="12" fill="#c0c0c0"/>
<rect x="1068" y="518" width="1" height="20" fill="#c0c0c0"/>
<rect x="1076" y="511" width="1" height="27" fill="#c0c0c0"/>
<rect x="1084" y="508" width="1" height="30" fill="#c0c0c0"/>
<rect x="1092" y="504" width="1" height="34" fill="#c0c0c0"/>
<rect x="1100" y="505" width="1" height="33" fill="#c0c0c0"/>
<rect x="1108" y="507" width="1" height="31" fill="#c0c0c0"/>
<rect x="1116" y="509" width="1" height="29" fill="#c0c0c0"/>
<rect x="1124" y="511" width="1" height="27" fill="#c0c0c0"/>
<rect x="1132" y="513" width="1" height="25" fill="#c0c0c0"/>
<rect x="1140" y="513" width="1" height="25" fill="#c0c0c0"/>
<rect x="1148" y="513" width="1" height="25" fill="#c0c0c0"/>
<rect x="1156" y="516" width="1" height="22" fill="#c0c0c0"/>
<rect x="1164" y="515" width="1" height="23" fill="#c0c0c0"/>
<rect x="1172" y="515" width="1" height="23" fill="#c0c0c0"/>
<polyline points="4.5,570.5 12.5,574.3 20.5,578.0 28.5,580.5 36.5,582.5 44.5,583.3 60.0,583.3 67.5,581.0 76.3,580.0 85.0,576.8 100.0,571.0 115.0,564.8 130.0,559.3 140.0,556.0 155.0,551.8 172.5,548.5 180.0,546.3 195.0,543.5 205.0,542.3 212.5,540.0 225.0,538.8 250.0,537.5 267.5,536.5 285.0,534.8 300.0,532.4 308.8,531.3 316.3,529.3 325.0,528.3 332.5,526.3 348.8,524.8 356.3,522.5 372.5,520.5 380.0,519.5 396.3,518.5 412.5,516.5 428.8,515.5 460.0,515.5 475.0,517.3 492.5,519.3 500.0,518.5 516.3,516.5 532.5,512.3 540.0,509.3 550.0,504.3 565.0,498.5 571.3,496.5 597.5,496.5 602.5,497.3 610.0,498.0 620.0,502.3 628.8,505.3 636.3,507.3 645.0,509.5 660.0,511.3 676.3,509.5 685.0,506.3 700.0,500.5 708.8,498.0 716.3,496.3 725.0,494.3 732.5,492.3 747.5,490.5 757.5,490.5 772.5,492.5 781.3,494.5 805.0,495.5 812.5,497.5 837.5,500.5 845.0,502.5 853.8,503.5 868.8,507.3 877.5,509.5 885.0,511.3 900.0,510.5 908.8,507.5 916.3,505.5 923.8,503.5 940.0,501.5 956.3,501.5 965.0,504.5 973.8,508.5 981.3,514.3 990.0,518.5 997.5,521.5 1005.0,524.5 1012.5,528.3 1020.0,530.3 1028.8,532.3 1037.5,533.5 1052.5,533.5 1061.3,532.3 1068.8,530.3 1076.3,528.3 1085.0,524.5 1092.5,521.5 1101.3,518.0 1108.8,515.5 1116.3,512.5 1123.8,510.5 1132.5,509.5 1140.0,508.5 1150.0,508.5 1165.0,510.5 1171.3,512.3" fill="none" stroke="#ff0000" stroke-width="1" stroke-dasharray="5 3"/>
<line x1="5" y1="617.5" x2="1191" y2="617.5" stroke="#c0c0c0" stroke-width="1" stroke-dasharray="3 3"/>
<line x1="5" y1="646.5" x2="1191" y2="646.5" stroke="#c0c0c0" stroke-width="1" stroke-dasharray="3 3"/>
<path fill="#1e90ff" d="M4 651h1v1h-1zM5 650h2v1h-2zM7 649h2v1h-2zM9 648h2v1h-2zM11 647h2v1h-2zM13 646h5v1h-5zM18 645h7v1h-7zM25 646h5v1h-5zM30 645h4v1h-4zM34 644h4v1h-4zM38 643h4v1h-4zM42 642h2v1h-2zM44 641h2v1h-2zM46 640h2v1h-2zM48 639h2v1h-2zM50 638h4v1h-4zM54 637h20v1h-20zM74 638h3v1h-3zM77 637h1v1h-1zM78 636h2v1h-2zM80 635h1v1h-1zM81 634h1v1h-1zM82 633h2v1h-2zM84 632h1v1h-1zM85 631h13v1h-13zM98 632h4v1h-4zM102 633h3v1h-3zM105 634h2v1h-2zM107 635h4v1h-4zM111 634h8v1h-8zM119 635h5v1h-5zM124 636h5v1h-5zM129 637h3v1h-3zM132 636h2v1h-2zM134 635h1v1h-1zM135 634h2v1h-2zM137 633h1v1h-1zM138 632h2v1h-2zM140 631h2v1h-2zM142 630h2v1h-2zM144 629h2v1h-2zM146 628h7v1h-7zM153 629h5v1h-5zM158 628h12v1h-12zM170 629h5v1h-5zM175 630h4v1h-4zM179 631h6v1h-6zM185 632h16v1h-16zM201 631h6v1h-6zM207 630h7v1h-7zM214 629h9v1h-9zM223 628h6v1h-6zM229 627h3v1h-3zM232 626h2v1h-2zM234 625h3v1h-3zM237 626h1v1h-1zM238 627h1v1h-1zM239 628h1v1h-1zM240 629h1v1h-1zM241 630h1v1h-1zM242 631h1v1h-1zM243 632h1v1h-1zM244 633h1v1h-1zM245 632h3v1h-3zM248 631h2v1h-2zM250 630h3v1h-3zM253 629h3v1h-3zM256 628h2v1h-2zM258 627h7v1h-7zM265 626h7v1h-7zM272 625h6v1h-6zM278 624h8v1h-8zM286 623h4v1h-4zM290 622h2v1h-2zM292 621h2v1h-2zM294 620h2v1h-2zM296 619h3v1h-3zM299 618h18v1h-18zM317 619h1v1h-1zM318 620h2v1h-2zM320 621h1v1h-1zM321 622h1v1h-1zM322 623h1v1h-1zM323 624h2v1h-2zM325 625h2v1h-2zM327 624h6v1h-6zM333 623h1v1h-1zM334 622h2v1h-2zM336 621h1v1h-1zM337 620h2v1h-2zM339 619h3v1h-3zM342 618h11v1h-11zM353 619h8v1h-8zM361 618h6v1h-6zM367 619h5v1h-5zM372 620h4v1h-4zM376 619h8v1h-8zM384 618h5v1h-5zM389 617h3v1h-3zM392 616h3v1h-3zM395 615h4v1h-4zM399 616h9v1h-9zM408 615h14v1h-14zM422 616h2v1h-2zM424 617h2v1h-2zM426 618h2v1h-2zM428 619h2v1h-2zM430 618h2v1h-2zM432 617h3v1h-3zM435 616h2v1h-2zM437 617h1v1h-1zM438 618h1v1h-1zM439 619h1v1h-1zM440 620h1v2h-1zM441 622h1v1h-1zM442 623h1v1h-1zM443 624h2v1h-2zM445 625h2v1h-2zM447 626h3v1h-3zM450 627h2v1h-2zM452 628h2v1h-2zM454 629h3v1h-3zM457 630h7v1h-7zM464 629h6v1h-6zM470 628h7v1h-7zM477 627h1v1h-1zM478 626h1v1h-1zM479 625h1v1h-1zM480 624h1v1h-1zM481 623h1v1h-1zM482 622h1v1h-1zM483 621h1v1h-1zM484 620h1v1h-1zM485 619h1v1h-1zM486 618h1v1h-1zM487 617h1v1h-1zM488 615h1v2h-1zM489 614h1v1h-1zM490 613h1v1h-1zM491 612h1v1h-1zM492 611h9v1h-9zM501 612h1v1h-1zM502 613h2v1h-2zM504 614h1v1h-1zM505 615h2v1h-2zM507 616h1v1h-1zM508 617h12v1h-12zM520 616h5v1h-5zM525 615h2v1h-2zM527 614h2v1h-2zM529 613h2v1h-2zM531 612h13v1h-13zM544 611h5v1h-5zM549 610h5v1h-5zM554 609h5v1h-5zM559 610h4v1h-4zM563 610h1v2h-1zM564 612h1v2h-1zM565 614h1v2h-1zM566 616h1v2h-1zM567 618h1v2h-1zM568 620h1v2h-1zM569 622h1v2h-1zM570 624h1v3h-1zM571 627h1v2h-1zM572 629h3v1h-3zM575 630h4v1h-4zM579 631h2v1h-2zM581 630h3v1h-3zM584 629h3v1h-3zM587 628h6v1h-6zM593 629h15v1h-15zM608 628h7v1h-7zM615 627h6v1h-6zM621 626h3v1h-3zM624 625h2v1h-2zM626 624h3v1h-3zM629 623h3v1h-3zM632 622h2v1h-2zM634 621h11v1h-11zM645 620h4v1h-4zM649 619h5v1h-5zM654 618h5v1h-5zM659 617h6v1h-6zM665 616h4v1h-4zM669 615h2v1h-2zM671 614h2v1h-2zM673 613h2v1h-2zM675 612h4v1h-4zM679 611h14v1h-14zM693 612h1v1h-1zM694 613h1v1h-1zM695 614h1v1h-1zM696 615h1v1h-1zM697 616h2v1h-2zM699 617h1v1h-1zM700 618h13v1h-13zM713 619h7v1h-7zM720 618h7v1h-7zM727 617h5v1h-5zM732 616h3v1h-3zM735 615h3v1h-3zM738 614h3v1h-3zM741 615h2v1h-2zM743 616h1v1h-1zM744 617h2v1h-2zM746 618h1v1h-1zM747 619h2v1h-2zM749 620h2v1h-2zM751 621h1v1h-1zM752 622h2v1h-2zM754 623h2v1h-2zM756 624h4v1h-4zM760 623h7v1h-7zM767 622h9v1h-9zM776 621h5v1h-5zM781 620h2v1h-2zM783 619h2v1h-2zM785 618h2v1h-2zM787 617h17v1h-17zM804 618h1v1h-1zM805 619h1v1h-1zM806 620h1v1h-1zM807 621h1v2h-1zM808 623h1v1h-1zM809 624h1v1h-1zM810 625h1v2h-1zM811 627h1v1h-1zM812 628h2v1h-2zM814 627h3v1h-3zM817 626h5v1h-5zM822 625h9v1h-9zM831 626h4v1h-4zM835 627h4v1h-4zM839 626h7v1h-7zM846 627h3v1h-3zM849 628h3v1h-3zM852 629h8v1h-8zM860 628h2v1h-2zM862 627h1v1h-1zM863 626h1v1h-1zM864 625h2v1h-2zM866 624h1v1h-1zM867 623h11v1h-11zM878 622h4v1h-4zM882 621h2v1h-2zM884 620h2v1h-2zM886 619h1v1h-1zM887 618h1v1h-1zM888 617h1v1h-1zM889 616h2v1h-2zM891 615h1v1h-1zM892 614h2v1h-2zM894 613h2v1h-2zM896 612h2v1h-2zM898 611h3v1h-3zM901 610h4v1h-4zM905 609h2v1h-2zM907 609h1v2h-1zM908 611h1v2h-1zM909 613h1v2h-1zM910 615h1v1h-1zM911 616h1v2h-1zM912 618h1v2h-1zM913 620h1v2h-1zM914 622h1v1h-1zM915 623h1v2h-1zM916 625h1v1h-1zM917 626h1v2h-1zM918 628h1v1h-1zM919 629h1v1h-1zM920 630h1v2h-1zM921 632h1v1h-1zM922 633h1v1h-1zM923 634h1v1h-1zM924 635h2v1h-2zM926 634h2v1h-2zM928 633h2v1h-2zM930 632h2v1h-2zM932 631h3v1h-3zM935 630h15v1h-15zM950 631h3v1h-3zM953 632h3v1h-3zM956 633h2v1h-2zM958 634h3v1h-3zM961 635h3v1h-3zM964 636h4v1h-4zM968 635h5v1h-5zM973 634h2v1h-2zM975 633h2v1h-2zM977 632h2v1h-2zM979 631h1v1h-1zM980 630h5v1h-5zM985 631h6v1h-6zM991 632h4v1h-4zM995 633h3v1h-3zM998 632h4v1h-4zM1002 631h5v1h-5zM1007 630h11v1h-11zM1018 631h22v1h-22zM1040 630h5v1h-5zM1045 629h2v1h-2zM1047 628h2v1h-2zM1049 627h2v1h-2zM1051 626h4v1h-4zM1055 625h7v1h-7zM1062 624h2v1h-2zM1064 623h2v1h-2zM1066 622h1v1h-1zM1067 621h13v1h-13zM1080 622h4v1h-4zM1084 623h2v1h-2zM1086 622h4v1h-4zM1090 621h2v1h-2zM1092 622h2v1h-2zM1094 623h1v1h-1zM1095 624h2v1h-2zM1097 625h1v1h-1zM1098 626h2v1h-2zM1100 627h4v1h-4zM1104 628h32v1h-32zM1136 627h6v1h-6zM1142 626h9v1h-9zM1151 627h2v1h-2zM1153 628h3v1h-3zM1156 629h1v1h-1zM1157 628h3v1h-3zM1160 627h2v1h-2zM1162 626h11v1h-11z"/>
</g>
<g shape-rendering="crispEdges" fill="#000">
<rect x="3" y="7" width="1" height="470"/>
<rect x="1191" y="7" width="1" height="470"/>
<rect x="3" y="478" width="1" height="115"/>
<rect x="1191" y="478" width="1" height="115"/>
<rect x="3" y="594" width="1" height="75"/>
<rect x="1191" y="594" width="1" height="75"/>
<rect x="3" y="7" width="1189" height="1"/>
<rect x="3" y="476" width="1189" height="1"/>
<rect x="3" y="478" width="1189" height="1"/>
<rect x="3" y="592" width="1189" height="1"/>
<rect x="3" y="594" width="1189" height="1"/>
<rect x="3" y="668" width="1189" height="1"/>
<rect x="1192" y="11" width="2" height="1"/>
<rect x="1192" y="44" width="2" height="1"/>
<rect x="1192" y="77" width="2" height="1"/>
<rect x="1192" y="110" width="2" height="1"/>
<rect x="1192" y="143" width="2" height="1"/>
<rect x="1192" y="176" width="2" height="1"/>
<rect x="1192" y="209" width="2" height="1"/>
<rect x="1192" y="242" width="2" height="1"/>
<rect x="1192" y="275" width="2" height="1"/>
<rect x="1192" y="308" width="2" height="1"/>
<rect x="1192" y="341" width="2" height="1"/>
<rect x="1192" y="374" width="2" height="1"/>
<rect x="1192" y="407" width="2" height="1"/>
<rect x="1192" y="440" width="2" height="1"/>
<rect x="1192" y="473" width="2" height="1"/>
<rect x="1192" y="537" width="2" height="1"/>
<rect x="1192" y="617" width="2" height="1"/>
<rect x="1192" y="646" width="2" height="1"/>
<rect x="1192" y="480" width="1" height="1"/>
<rect x="1192" y="591" width="1" height="1"/>
<rect x="1192" y="596" width="1" height="1"/>
<rect x="1192" y="667" width="1" height="1"/>
<rect x="4" y="669" width="1" height="3"/>
<rect x="68" y="669" width="1" height="3"/>
<rect x="132" y="669" width="1" height="3"/>
<rect x="196" y="669" width="1" height="3"/>
<rect x="260" y="669" width="1" height="3"/>
<rect x="324" y="669" width="1" height="3"/>
<rect x="388" y="669" width="1" height="3"/>
<rect x="452" y="669" width="1" height="3"/>
<rect x="516" y="669" width="1" height="3"/>
<rect x="580" y="669" width="1" height="3"/>
<rect x="644" y="669" width="1" height="3"/>
<rect x="708" y="669" width="1" height="3"/>
<rect x="772" y="669" width="1" height="3"/>
<rect x="836" y="669" width="1" height="3"/>
<rect x="900" y="669" width="1" height="3"/>
<rect x="964" y="669" width="1" height="3"/>
<rect x="1028" y="669" width="1" height="3"/>
<rect x="1092" y="669" width="1" height="3"/>
<rect x="1156" y="669" width="1" height="3"/>
</g>
<g shape-rendering="crispEdges">
<rect x="1194" y="90" width="39" height="11" fill="#ff2400"/>
<rect x="1194" y="157" width="39" height="11" fill="#00d400"/>
<rect x="1194" y="236" width="39" height="11" fill="#3c50e0"/>
<rect x="1194" y="314" width="39" height="11" fill="#3c50e0"/>
</g>
<text x="1197.4" y="15" class="t" textLength="31.8" lengthAdjust="spacingAndGlyphs">1982.90</text>
<text x="1197.4" y="48" class="t" textLength="31.8" lengthAdjust="spacingAndGlyphs">1968.10</text>
<text x="1197.4" y="81" class="t" textLength="31.8" lengthAdjust="spacingAndGlyphs">1953.30</text>
<text x="1197.4" y="114" class="t" textLength="31.8" lengthAdjust="spacingAndGlyphs">1938.50</text>
<text x="1197.4" y="147" class="t" textLength="31.8" lengthAdjust="spacingAndGlyphs">1924.10</text>
<text x="1197.4" y="180" class="t" textLength="31.8" lengthAdjust="spacingAndGlyphs">1909.30</text>
<text x="1197.4" y="213" class="t" textLength="31.8" lengthAdjust="spacingAndGlyphs">1894.50</text>
<text x="1197.4" y="279" class="t" textLength="31.8" lengthAdjust="spacingAndGlyphs">1864.90</text>
<text x="1197.4" y="312" class="t" textLength="31.8" lengthAdjust="spacingAndGlyphs">1850.50</text>
<text x="1197.4" y="345" class="t" textLength="31.8" lengthAdjust="spacingAndGlyphs">1835.70</text>
<text x="1197.4" y="378" class="t" textLength="31.8" lengthAdjust="spacingAndGlyphs">1820.90</text>
<text x="1197.4" y="411" class="t" textLength="31.8" lengthAdjust="spacingAndGlyphs">1806.10</text>
<text x="1197.4" y="444" class="t" textLength="31.8" lengthAdjust="spacingAndGlyphs">1791.70</text>
<text x="1197.4" y="477" class="t" textLength="31.8" lengthAdjust="spacingAndGlyphs">1776.90</text>
<rect x="1194" y="112" width="39" height="11" fill="#000" shape-rendering="crispEdges"/>
<text x="1197.7" y="99.1" class="t w" textLength="31.5" lengthAdjust="spacingAndGlyphs">1945.00</text>
<text x="1197.7" y="121.1" class="t w" textLength="31.5" lengthAdjust="spacingAndGlyphs">1935.45</text>
<text x="1197.7" y="166.1" class="t w" textLength="31.5" lengthAdjust="spacingAndGlyphs">1915.00</text>
<text x="1197.7" y="245.1" class="t w" textLength="31.5" lengthAdjust="spacingAndGlyphs">1880.00</text>
<text x="1197.7" y="323.1" class="t w" textLength="31.5" lengthAdjust="spacingAndGlyphs">1845.00</text>
<text x="1195.6" y="489" class="t" textLength="27" lengthAdjust="spacingAndGlyphs">15.272</text>
<text x="1195" y="541" class="t" textLength="17.5" lengthAdjust="spacingAndGlyphs">0.00</text>
<text x="1195" y="589.2" class="t" textLength="30" lengthAdjust="spacingAndGlyphs">-14.388</text>
<text x="1195.5" y="605.2" class="t" textLength="13.5" lengthAdjust="spacingAndGlyphs">100</text>
<text x="1194" y="620.8" class="t" textLength="9" lengthAdjust="spacingAndGlyphs">70</text>
<text x="1194" y="649.8" class="t" textLength="9" lengthAdjust="spacingAndGlyphs">30</text>
<text x="1195" y="665.4" class="t" textLength="4.6" lengthAdjust="spacingAndGlyphs">0</text>
<path d="M7 14 L14 14 L10.5 18 Z" fill="#000"/>
<text x="18.6" y="19" class="t" textLength="57.4" lengthAdjust="spacingAndGlyphs">XAUUSD-,H4</text>
<text x="82.3" y="19" class="t" textLength="139.7" lengthAdjust="spacingAndGlyphs">1935.09 1941.15 1934.76 1935.45</text>
<text x="7.7" y="491" class="t" textLength="65.8" lengthAdjust="spacingAndGlyphs">MACD(12,26,9)</text>
<text x="76.3" y="491" class="t" textLength="49.5" lengthAdjust="spacingAndGlyphs">6.073 6.774</text>
<text x="7.7" y="607" class="t" textLength="67.5" lengthAdjust="spacingAndGlyphs">RSI(14) 57.9547</text>
<text x="2.9" y="681" class="t" textLength="49.6" lengthAdjust="spacingAndGlyphs">28 Jan 2022</text>
<text x="66.9" y="681" class="t" textLength="52.5" lengthAdjust="spacingAndGlyphs">31 Jan 20:00</text>
<text x="130.9" y="681" class="t" textLength="49.1" lengthAdjust="spacingAndGlyphs">2 Feb 04:00</text>
<text x="194.9" y="681" class="t" textLength="49.1" lengthAdjust="spacingAndGlyphs">3 Feb 12:00</text>
<text x="258.9" y="681" class="t" textLength="49.1" lengthAdjust="spacingAndGlyphs">6 Feb 23:00</text>
<text x="322.9" y="681" class="t" textLength="49.1" lengthAdjust="spacingAndGlyphs">8 Feb 04:00</text>
<text x="386.9" y="681" class="t" textLength="49.1" lengthAdjust="spacingAndGlyphs">9 Feb 12:00</text>
<text x="450.9" y="681" class="t" textLength="54.2" lengthAdjust="spacingAndGlyphs">10 Feb 20:00</text>
<text x="514.9" y="681" class="t" textLength="54.2" lengthAdjust="spacingAndGlyphs">14 Feb 04:00</text>
<text x="578.9" y="681" class="t" textLength="54.2" lengthAdjust="spacingAndGlyphs">15 Feb 12:00</text>
<text x="642.9" y="681" class="t" textLength="54.2" lengthAdjust="spacingAndGlyphs">16 Feb 20:00</text>
<text x="706.9" y="681" class="t" textLength="54.2" lengthAdjust="spacingAndGlyphs">18 Feb 04:00</text>
<text x="770.9" y="681" class="t" textLength="54.2" lengthAdjust="spacingAndGlyphs">21 Feb 12:00</text>
<text x="834.9" y="681" class="t" textLength="54.2" lengthAdjust="spacingAndGlyphs">22 Feb 20:00</text>
<text x="898.9" y="681" class="t" textLength="54.2" lengthAdjust="spacingAndGlyphs">24 Feb 04:00</text>
<text x="962.9" y="681" class="t" textLength="54.2" lengthAdjust="spacingAndGlyphs">25 Feb 12:00</text>
<text x="1026.9" y="681" class="t" textLength="54.2" lengthAdjust="spacingAndGlyphs">28 Feb 20:00</text>
<text x="1090.9" y="681" class="t" textLength="49.5" lengthAdjust="spacingAndGlyphs">2 Mar 04:00</text>
<text x="1154.9" y="681" class="t" textLength="49.5" lengthAdjust="spacingAndGlyphs">3 Mar 12:00</text>
<text x="154.8" y="215.5" class="cn" font-size="34.8px" font-weight="350">多空转折点</text>
<text x="327.2" y="215.5" font-family="Liberation Sans, Arial, sans-serif" fill="#ff0000" font-size="36.5px" textLength="71.5" lengthAdjust="spacingAndGlyphs">1915</text>
</svg></body></html>
